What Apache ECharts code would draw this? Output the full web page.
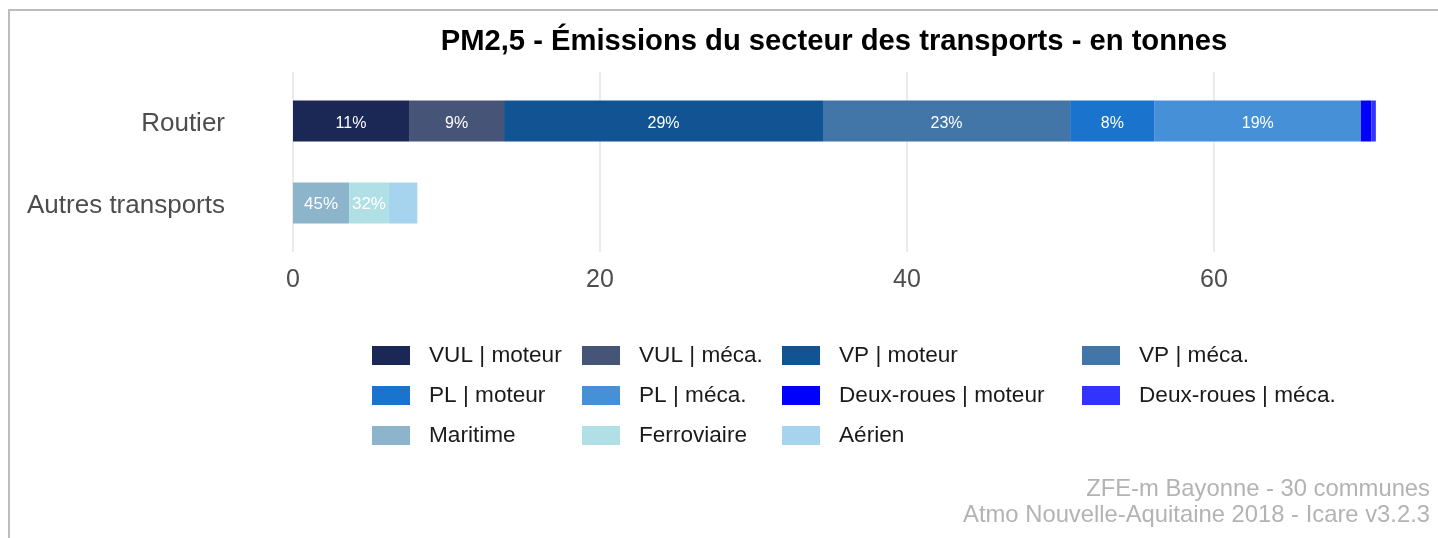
<!DOCTYPE html>
<html>
<head>
<meta charset="utf-8">
<script src="https://cdn.jsdelivr.net/npm/echarts@6/dist/echarts.min.js"></script>
<style>
  html, body { margin: 0; padding: 0; background: #fff; }
  #chart { width: 1438px; height: 538px; }
</style>
</head>
<body>
<div id="chart"></div>
<script>
// categories (top to bottom)
var categories = ['Routier', 'Autres transports'];

// road transport, tonnes
var routierNames = ['VUL | moteur', 'VUL | méca.', 'VP | moteur', 'VP | méca.', 'PL | moteur', 'PL | méca.', 'Deux-roues | moteur', 'Deux-roues | méca.'];
var routierValues = [7.56, 6.19, 20.78, 16.10, 5.51, 13.43, 0.70, 0.28];
var routierColors = ['#1b2855', '#465477', '#125394', '#4275a8', '#1a73cc', '#4690d8', '#0000ff', '#3333ff'];

// other transports, tonnes
var autresNames = ['Maritime', 'Ferroviaire', 'Aérien'];
var autresValues = [3.65, 2.6, 1.85];
var autresColors = ['#8cb4cb', '#b0e0e6', '#a6d3ee'];

var xTicks = [0, 20, 40, 60];

// legend columns
var legendCols = [
  ['VUL | moteur', 'PL | moteur', 'Maritime'],
  ['VUL | méca.', 'PL | méca.', 'Ferroviaire'],
  ['VP | moteur', 'Deux-roues | moteur', 'Aérien'],
  ['VP | méca.', 'Deux-roues | méca.']
];
var legendLeft = [372, 582, 782, 1082];

var captionLines = ['ZFE-m Bayonne - 30 communes', 'Atmo Nouvelle-Aquitaine 2018 - Icare v3.2.3'];

var FONT = '"Liberation Sans", Arial, sans-serif';

function sum(a) { return a.reduce(function (s, v) { return s + v; }, 0); }
var totals = [sum(routierValues), sum(autresValues)];
var xMax = Math.max(totals[0], totals[1]) * 1.05;

var barLabel = {
  show: true,
  position: 'inside',
  formatter: function (p) {
    if (p.value == null || p.value < 2) return '';
    var pct = Math.round(p.value / totals[p.dataIndex] * 100) + '%';
    return (p.dataIndex === 0 ? '{r|' : '{o|') + pct + '}';
  },
  rich: {
    r: { fontSize: 16, color: '#fff', fontFamily: FONT, padding: [5, 0, 0, 0] },
    o: { fontSize: 17, color: '#fff', fontFamily: FONT, padding: [2, 0, 0, 0] }
  }
};

var series = [];
routierNames.forEach(function (name, i) {
  series.push({
    name: name, type: 'bar', stack: 'total',
    xAxisIndex: 1, yAxisIndex: 1, barWidth: 41,
    itemStyle: { color: routierColors[i] },
    label: barLabel,
    data: [routierValues[i], null]
  });
});
autresNames.forEach(function (name, i) {
  series.push({
    name: name, type: 'bar', stack: 'total',
    xAxisIndex: 1, yAxisIndex: 1, barWidth: 41,
    itemStyle: { color: autresColors[i] },
    label: barLabel,
    data: [null, autresValues[i]]
  });
});

var legends = legendCols.map(function (col, i) {
  return {
    data: col,
    orient: 'vertical',
    left: legendLeft[i],
    top: 344,
    padding: 0,
    icon: 'rect',
    itemWidth: 38,
    itemHeight: 19,
    itemGap: 17,
    selectedMode: false,
    textStyle: { fontSize: 22.6, color: '#1a1a1a', fontFamily: FONT, lineHeight: 19, padding: [0, 0, 0, 14] }
  };
});

var titles = [{
  text: 'PM2,5 - Émissions du secteur des transports - en tonnes',
  left: 834, top: 27, padding: 0, textAlign: 'center',
  textStyle: { fontSize: 29.2, fontWeight: 'bold', color: '#000', fontFamily: FONT }
}];
captionLines.forEach(function (t, i) {
  titles.push({
    text: t, right: 8, top: 477 + i * 26, padding: 0,
    textStyle: { fontSize: 23.8, fontWeight: 'normal', color: '#b3b3b3', fontFamily: FONT }
  });
});

var chart = echarts.init(document.getElementById('chart'));
chart.setOption({
  animation: false,
  backgroundColor: '#fff',
  title: titles,
  legend: legends,
  grid: [
    { left: 293, right: 8, top: 72, height: 180 },
    { left: 293, right: 8, top: 80, height: 164 }
  ],
  xAxis: [{
    gridIndex: 0, type: 'value', min: 0, max: xMax, interval: 20,
    axisLine: { show: false }, axisTick: { show: false }, axisLabel: { show: false },
    splitLine: { show: true, showMaxLine: false, lineStyle: { color: '#ebebeb', width: 2 } }
  }, {
    gridIndex: 1, type: 'value', min: 0, max: xMax, interval: 20,
    axisLine: { show: false }, axisTick: { show: false },
    splitLine: { show: false },
    axisLabel: {
      fontSize: 25, color: '#4d4d4d', fontFamily: FONT, margin: 24, showMaxLabel: false,
      formatter: function (v) { return xTicks.indexOf(v) >= 0 ? String(v) : ''; }
    }
  }],
  yAxis: [{
    gridIndex: 0, type: 'value', show: false
  }, {
    gridIndex: 1, type: 'category', data: categories, inverse: true,
    axisLine: { show: false }, axisTick: { show: false }, splitLine: { show: false },
    axisLabel: {
      margin: 68,
      formatter: function (v) { return '{c|' + v + '}'; },
      rich: { c: { fontSize: 26, color: '#4d4d4d', fontFamily: FONT, padding: [6, 0, 0, 0] } }
    }
  }],
  graphic: [{
    type: 'line', shape: { x1: 8, y1: 10, x2: 1438, y2: 10 },
    style: { stroke: '#bdbdbd', lineWidth: 2 }, silent: true
  }, {
    type: 'line', shape: { x1: 9, y1: 10, x2: 9, y2: 538 },
    style: { stroke: '#bdbdbd', lineWidth: 2 }, silent: true
  }],
  series: series
});
</script>
</body>
</html>
